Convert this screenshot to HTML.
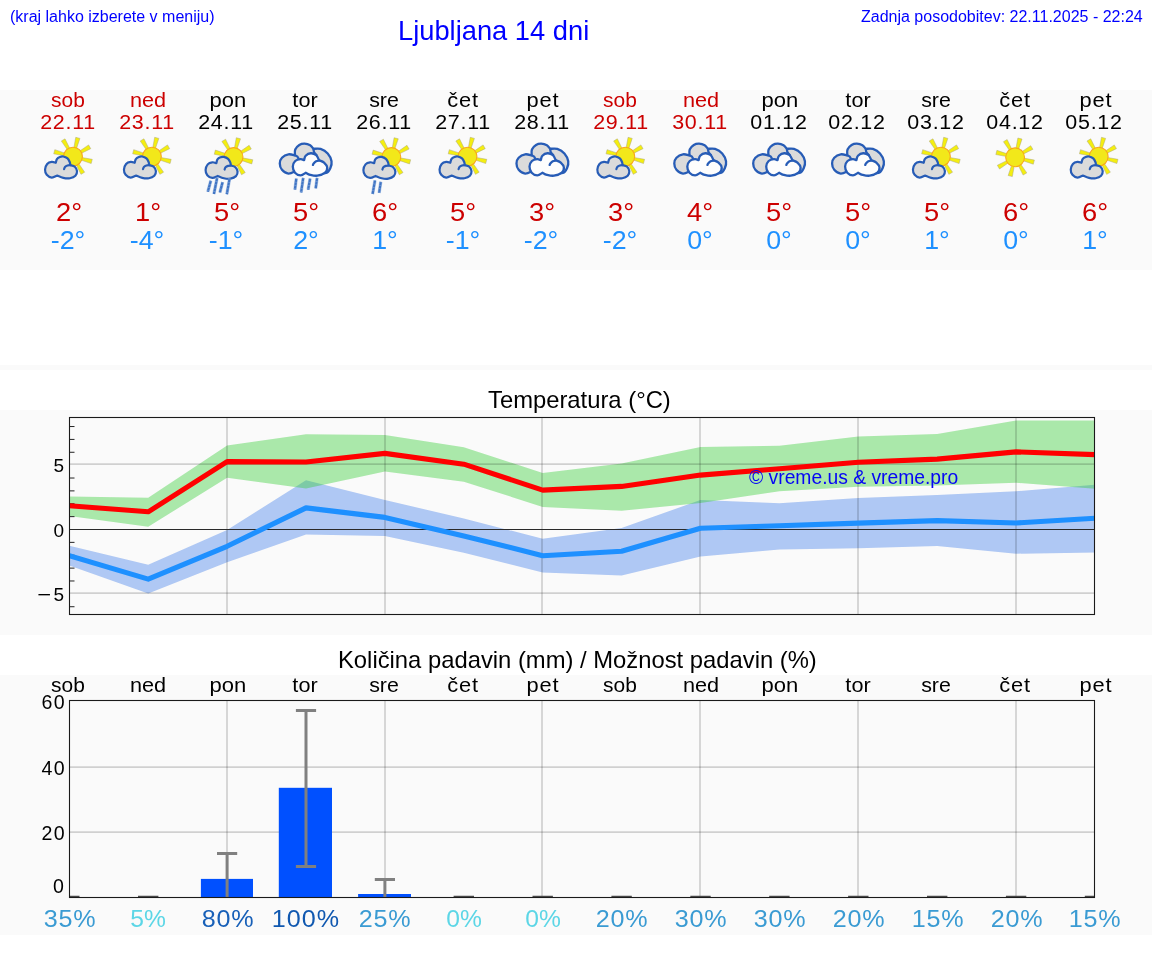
<!DOCTYPE html>
<html lang="sl"><head><meta charset="utf-8"><title>Ljubljana 14 dni</title>
<style>
html,body{margin:0;padding:0;background:#fff;}
body{width:1152px;height:975px;position:relative;overflow:hidden;font-family:"Liberation Sans",sans-serif;}
.abs{position:absolute;white-space:nowrap;line-height:1;will-change:transform;}
.panel{position:absolute;left:0;width:1152px;background:#fafafa;}
.hd{color:#0000ff;font-size:16px;}
.ttl{color:#000;font-size:23.8px;}
.c{position:absolute;white-space:nowrap;line-height:1;transform:translateX(-50%);text-align:center;will-change:transform;}
.day{font-size:19.5px;}
.date{font-size:19.5px;}
.red{color:#cc0000;} .blk{color:#000;}
.tmax{font-size:25.5px;color:#cc0000;}
.tmin{font-size:25.5px;color:#1e90ff;}
.pct{font-size:24.4px;}
.yt{position:absolute;white-space:nowrap;line-height:1;font-size:19px;color:#000;text-align:right;width:60px;will-change:transform;}
svg{position:absolute;overflow:visible;}
</style></head><body>

<div class="panel" style="top:90px;height:180px"></div>
<div class="panel" style="top:365px;height:5px"></div>
<div class="panel" style="top:410px;height:225px"></div>
<div class="panel" style="top:675px;height:260px"></div>
<div class="abs hd" style="left:9.7px;top:8.76px">(kraj lahko izberete v meniju)</div>
<div class="abs" style="left:397.9px;top:17.09px;font-size:27.3px;color:#0000ff">Ljubljana 14 dni</div>
<div class="abs hd" style="left:860.6px;top:8.76px">Zadnja posodobitev: 22.11.2025 - 22:24</div>
<div class="c day red" style="left:68.00px;top:90.69px;letter-spacing:0px;transform:translateX(-50%) scaleX(1.074);">sob</div>
<div class="c date red" style="left:68.46px;top:112.89px;letter-spacing:0.65px;transform:translateX(-50%) scaleX(1.1);">22.11</div>
<div class="c tmax" style="left:68.90px;top:199.60px;letter-spacing:0px;transform:translateX(-50%) scaleX(1.07);">2°</div>
<div class="c tmin" style="left:68.00px;top:227.60px;letter-spacing:0px;transform:translateX(-50%) scaleX(1.05);">-2°</div>
<div class="c day red" style="left:148.30px;top:90.69px;letter-spacing:0px;transform:translateX(-50%) scaleX(1.11);">ned</div>
<div class="c date red" style="left:147.36px;top:112.89px;letter-spacing:0.65px;transform:translateX(-50%) scaleX(1.1);">23.11</div>
<div class="c tmax" style="left:147.80px;top:199.60px;letter-spacing:0px;transform:translateX(-50%) scaleX(1.07);">1°</div>
<div class="c tmin" style="left:146.90px;top:227.60px;letter-spacing:0px;transform:translateX(-50%) scaleX(1.05);">-4°</div>
<div class="c day blk" style="left:228.00px;top:90.69px;letter-spacing:0px;transform:translateX(-50%) scaleX(1.13);">pon</div>
<div class="c date blk" style="left:226.26px;top:112.89px;letter-spacing:0.65px;transform:translateX(-50%) scaleX(1.1);">24.11</div>
<div class="c tmax" style="left:226.70px;top:199.60px;letter-spacing:0px;transform:translateX(-50%) scaleX(1.07);">5°</div>
<div class="c tmin" style="left:225.80px;top:227.60px;letter-spacing:0px;transform:translateX(-50%) scaleX(1.05);">-1°</div>
<div class="c day blk" style="left:305.20px;top:90.69px;letter-spacing:0px;transform:translateX(-50%) scaleX(1.11);">tor</div>
<div class="c date blk" style="left:305.16px;top:112.89px;letter-spacing:0.65px;transform:translateX(-50%) scaleX(1.1);">25.11</div>
<div class="c tmax" style="left:305.60px;top:199.60px;letter-spacing:0px;transform:translateX(-50%) scaleX(1.07);">5°</div>
<div class="c tmin" style="left:305.60px;top:227.60px;letter-spacing:0px;transform:translateX(-50%) scaleX(1.05);">2°</div>
<div class="c day blk" style="left:383.60px;top:90.69px;letter-spacing:0px;transform:translateX(-50%) scaleX(1.096);">sre</div>
<div class="c date blk" style="left:384.06px;top:112.89px;letter-spacing:0.65px;transform:translateX(-50%) scaleX(1.1);">26.11</div>
<div class="c tmax" style="left:384.50px;top:199.60px;letter-spacing:0px;transform:translateX(-50%) scaleX(1.07);">6°</div>
<div class="c tmin" style="left:384.50px;top:227.60px;letter-spacing:0px;transform:translateX(-50%) scaleX(1.05);">1°</div>
<div class="c day blk" style="left:463.09px;top:90.69px;letter-spacing:0.7px;transform:translateX(-50%) scaleX(1.12);">čet</div>
<div class="c date blk" style="left:462.96px;top:112.89px;letter-spacing:0.65px;transform:translateX(-50%) scaleX(1.1);">27.11</div>
<div class="c tmax" style="left:463.40px;top:199.60px;letter-spacing:0px;transform:translateX(-50%) scaleX(1.07);">5°</div>
<div class="c tmin" style="left:462.50px;top:227.60px;letter-spacing:0px;transform:translateX(-50%) scaleX(1.05);">-1°</div>
<div class="c day blk" style="left:543.28px;top:90.69px;letter-spacing:0.85px;transform:translateX(-50%) scaleX(1.12);">pet</div>
<div class="c date blk" style="left:541.86px;top:112.89px;letter-spacing:0.65px;transform:translateX(-50%) scaleX(1.1);">28.11</div>
<div class="c tmax" style="left:542.30px;top:199.60px;letter-spacing:0px;transform:translateX(-50%) scaleX(1.07);">3°</div>
<div class="c tmin" style="left:541.40px;top:227.60px;letter-spacing:0px;transform:translateX(-50%) scaleX(1.05);">-2°</div>
<div class="c day red" style="left:620.30px;top:90.69px;letter-spacing:0px;transform:translateX(-50%) scaleX(1.074);">sob</div>
<div class="c date red" style="left:620.76px;top:112.89px;letter-spacing:0.65px;transform:translateX(-50%) scaleX(1.1);">29.11</div>
<div class="c tmax" style="left:621.20px;top:199.60px;letter-spacing:0px;transform:translateX(-50%) scaleX(1.07);">3°</div>
<div class="c tmin" style="left:620.30px;top:227.60px;letter-spacing:0px;transform:translateX(-50%) scaleX(1.05);">-2°</div>
<div class="c day red" style="left:700.60px;top:90.69px;letter-spacing:0px;transform:translateX(-50%) scaleX(1.11);">ned</div>
<div class="c date red" style="left:699.66px;top:112.89px;letter-spacing:0.65px;transform:translateX(-50%) scaleX(1.1);">30.11</div>
<div class="c tmax" style="left:700.10px;top:199.60px;letter-spacing:0px;transform:translateX(-50%) scaleX(1.07);">4°</div>
<div class="c tmin" style="left:700.10px;top:227.60px;letter-spacing:0px;transform:translateX(-50%) scaleX(1.05);">0°</div>
<div class="c day blk" style="left:780.30px;top:90.69px;letter-spacing:0px;transform:translateX(-50%) scaleX(1.13);">pon</div>
<div class="c date blk" style="left:778.56px;top:112.89px;letter-spacing:0.65px;transform:translateX(-50%) scaleX(1.1);">01.12</div>
<div class="c tmax" style="left:779.00px;top:199.60px;letter-spacing:0px;transform:translateX(-50%) scaleX(1.07);">5°</div>
<div class="c tmin" style="left:779.00px;top:227.60px;letter-spacing:0px;transform:translateX(-50%) scaleX(1.05);">0°</div>
<div class="c day blk" style="left:857.50px;top:90.69px;letter-spacing:0px;transform:translateX(-50%) scaleX(1.11);">tor</div>
<div class="c date blk" style="left:857.46px;top:112.89px;letter-spacing:0.65px;transform:translateX(-50%) scaleX(1.1);">02.12</div>
<div class="c tmax" style="left:857.90px;top:199.60px;letter-spacing:0px;transform:translateX(-50%) scaleX(1.07);">5°</div>
<div class="c tmin" style="left:857.90px;top:227.60px;letter-spacing:0px;transform:translateX(-50%) scaleX(1.05);">0°</div>
<div class="c day blk" style="left:935.90px;top:90.69px;letter-spacing:0px;transform:translateX(-50%) scaleX(1.096);">sre</div>
<div class="c date blk" style="left:936.36px;top:112.89px;letter-spacing:0.65px;transform:translateX(-50%) scaleX(1.1);">03.12</div>
<div class="c tmax" style="left:936.80px;top:199.60px;letter-spacing:0px;transform:translateX(-50%) scaleX(1.07);">5°</div>
<div class="c tmin" style="left:936.80px;top:227.60px;letter-spacing:0px;transform:translateX(-50%) scaleX(1.05);">1°</div>
<div class="c day blk" style="left:1015.39px;top:90.69px;letter-spacing:0.7px;transform:translateX(-50%) scaleX(1.12);">čet</div>
<div class="c date blk" style="left:1015.26px;top:112.89px;letter-spacing:0.65px;transform:translateX(-50%) scaleX(1.1);">04.12</div>
<div class="c tmax" style="left:1015.70px;top:199.60px;letter-spacing:0px;transform:translateX(-50%) scaleX(1.07);">6°</div>
<div class="c tmin" style="left:1015.70px;top:227.60px;letter-spacing:0px;transform:translateX(-50%) scaleX(1.05);">0°</div>
<div class="c day blk" style="left:1095.58px;top:90.69px;letter-spacing:0.85px;transform:translateX(-50%) scaleX(1.12);">pet</div>
<div class="c date blk" style="left:1094.16px;top:112.89px;letter-spacing:0.65px;transform:translateX(-50%) scaleX(1.1);">05.12</div>
<div class="c tmax" style="left:1094.60px;top:199.60px;letter-spacing:0px;transform:translateX(-50%) scaleX(1.07);">6°</div>
<div class="c tmin" style="left:1094.60px;top:227.60px;letter-spacing:0px;transform:translateX(-50%) scaleX(1.05);">1°</div>
<svg style="left:0;top:130px" width="1152" height="72" viewBox="0 130 1152 72">
<path d="M80.89 160.04L91.2 163.53L92.27 159.36L81.57 157.42ZM76.15 164.61L80.97 174.36L84.67 172.18L78.48 163.24ZM69.56 164.49L66.07 174.8L70.24 175.87L72.18 165.17ZM64.99 159.75L55.24 164.57L57.42 168.27L66.36 162.08ZM65.11 153.16L54.8 149.67L53.73 153.84L64.43 155.78ZM69.85 148.59L65.03 138.84L61.33 141.02L67.52 149.96ZM76.44 148.71L79.93 138.4L75.76 137.33L73.82 148.03ZM81.01 153.45L90.76 148.63L88.58 144.93L79.64 151.12Z" fill="#f4ee10" stroke="#a9a67c" stroke-opacity="0.7" stroke-width="0.7" stroke-linejoin="round"/><circle cx="73" cy="156.6" r="9.4" fill="#f2e81a" stroke="#f8a81c" stroke-width="1.1"/><path d="M57.2 175.56C56.29 175.89 53.48 177.68 51.74 177.56C49.99 177.44 47.87 176.14 46.75 174.83C45.64 173.51 44.98 171.46 45.05 169.66C45.12 167.86 46.07 165.31 47.18 164.01C48.29 162.72 50.3 162.09 51.74 161.89C53.17 161.68 55.13 162.64 55.81 162.8C55.99 162.17 56.21 160.01 56.9 159.03C57.59 158.05 58.87 157.33 59.94 156.9C61 156.48 62.01 156.23 63.28 156.48C64.55 156.73 66.46 157.51 67.53 158.42C68.61 159.33 69.25 160.83 69.72 161.95C70.19 163.06 70.23 164.58 70.33 165.11C71.08 165.39 73.71 165.79 74.82 166.81C75.94 167.82 76.91 169.69 77.01 171.18C77.11 172.67 76.6 174.56 75.43 175.74C74.26 176.91 71.99 177.87 69.96 178.23C67.94 178.58 65.41 178.31 63.28 177.86C61.15 177.42 58.22 175.94 57.2 175.56Z" fill="#dbdbdb" stroke="#275cb6" stroke-width="2.2" stroke-linejoin="round"/><path d="M70.33 165.11C69.86 165.17 68.42 165.17 67.53 165.47C66.64 165.77 65.56 166.32 64.98 166.93C64.4 167.54 64.22 168.75 64.07 169.12" fill="none" stroke="#275cb6" stroke-width="2.2" stroke-linecap="round"/>
<path d="M159.79 160.04L170.1 163.53L171.17 159.36L160.47 157.42ZM155.05 164.61L159.87 174.36L163.57 172.18L157.38 163.24ZM148.46 164.49L144.97 174.8L149.14 175.87L151.08 165.17ZM143.89 159.75L134.14 164.57L136.32 168.27L145.26 162.08ZM144.01 153.16L133.7 149.67L132.63 153.84L143.33 155.78ZM148.75 148.59L143.93 138.84L140.23 141.02L146.42 149.96ZM155.34 148.71L158.83 138.4L154.66 137.33L152.72 148.03ZM159.91 153.45L169.66 148.63L167.48 144.93L158.54 151.12Z" fill="#f4ee10" stroke="#a9a67c" stroke-opacity="0.7" stroke-width="0.7" stroke-linejoin="round"/><circle cx="151.9" cy="156.6" r="9.4" fill="#f2e81a" stroke="#f8a81c" stroke-width="1.1"/><path d="M136.1 175.56C135.19 175.89 132.38 177.68 130.64 177.56C128.89 177.44 126.77 176.14 125.65 174.83C124.54 173.51 123.88 171.46 123.95 169.66C124.02 167.86 124.97 165.31 126.08 164.01C127.19 162.72 129.2 162.09 130.64 161.89C132.07 161.68 134.03 162.64 134.71 162.8C134.89 162.17 135.11 160.01 135.8 159.03C136.49 158.05 137.77 157.33 138.84 156.9C139.9 156.48 140.91 156.23 142.18 156.48C143.45 156.73 145.36 157.51 146.43 158.42C147.51 159.33 148.15 160.83 148.62 161.95C149.09 163.06 149.13 164.58 149.23 165.11C149.98 165.39 152.61 165.79 153.72 166.81C154.84 167.82 155.81 169.69 155.91 171.18C156.01 172.67 155.5 174.56 154.33 175.74C153.16 176.91 150.89 177.87 148.86 178.23C146.84 178.58 144.31 178.31 142.18 177.86C140.05 177.42 137.12 175.94 136.1 175.56Z" fill="#dbdbdb" stroke="#275cb6" stroke-width="2.2" stroke-linejoin="round"/><path d="M149.23 165.11C148.76 165.17 147.32 165.17 146.43 165.47C145.54 165.77 144.46 166.32 143.88 166.93C143.3 167.54 143.12 168.75 142.97 169.12" fill="none" stroke="#275cb6" stroke-width="2.2" stroke-linecap="round"/>
<path d="M241.44 160.44L251.75 163.93L252.82 159.76L242.12 157.82ZM236.7 165.01L241.52 174.76L245.22 172.58L239.03 163.64ZM230.11 164.89L226.62 175.2L230.79 176.27L232.73 165.57ZM225.54 160.15L215.79 164.97L217.97 168.67L226.91 162.48ZM225.66 153.56L215.35 150.07L214.28 154.24L224.98 156.18ZM230.4 148.99L225.58 139.24L221.88 141.42L228.07 150.36ZM236.99 149.11L240.48 138.8L236.31 137.73L234.37 148.43ZM241.56 153.85L251.31 149.03L249.13 145.33L240.19 151.52Z" fill="#f4ee10" stroke="#a9a67c" stroke-opacity="0.7" stroke-width="0.7" stroke-linejoin="round"/><circle cx="233.55" cy="157" r="9.4" fill="#f2e81a" stroke="#f8a81c" stroke-width="1.1"/><path d="M217.75 175.96C216.84 176.29 214.03 178.08 212.29 177.96C210.54 177.84 208.42 176.54 207.3 175.23C206.19 173.91 205.53 171.86 205.6 170.06C205.67 168.26 206.62 165.71 207.73 164.41C208.84 163.12 210.85 162.49 212.29 162.29C213.72 162.08 215.68 163.04 216.36 163.2C216.54 162.57 216.76 160.41 217.45 159.43C218.14 158.45 219.42 157.73 220.49 157.3C221.55 156.88 222.56 156.63 223.83 156.88C225.1 157.13 227.01 157.91 228.08 158.82C229.16 159.73 229.8 161.23 230.27 162.35C230.74 163.46 230.78 164.98 230.88 165.51C231.63 165.79 234.26 166.19 235.37 167.21C236.49 168.22 237.46 170.09 237.56 171.58C237.66 173.07 237.15 174.96 235.98 176.14C234.81 177.31 232.54 178.27 230.51 178.63C228.49 178.98 225.96 178.71 223.83 178.26C221.7 177.82 218.77 176.34 217.75 175.96Z" fill="#dbdbdb" stroke="#275cb6" stroke-width="2.2" stroke-linejoin="round"/><path d="M230.88 165.51C230.41 165.57 228.97 165.57 228.08 165.87C227.19 166.17 226.11 166.72 225.53 167.33C224.95 167.94 224.77 169.15 224.62 169.52" fill="none" stroke="#275cb6" stroke-width="2.2" stroke-linecap="round"/><path d="M210.8 180.7L207.8 191.8M217.1 177.9L213.9 193.9M222.6 182.1L219.9 192.5M229.6 178.6L226.8 194.2" stroke="#8fb0e0" stroke-width="3.4" fill="none" stroke-opacity="0.6"/><path d="M210.8 180.7L207.8 191.8M217.1 177.9L213.9 193.9M222.6 182.1L219.9 192.5M229.6 178.6L226.8 194.2" stroke="#4175c4" stroke-width="2.3" fill="none"/><path d="M210.8 180.7L207.8 191.8M217.1 177.9L213.9 193.9M222.6 182.1L219.9 192.5M229.6 178.6L226.8 194.2" stroke="#9db9e4" stroke-width="2.3" fill="none" stroke-dasharray="0.5 2.9" stroke-opacity="0.8"/>
<path d="M296.29 170.8C294.98 171.26 290.86 173.75 288.47 173.58C286.09 173.4 283.41 171.45 281.96 169.76C280.52 168.06 279.79 165.42 279.79 163.42C279.79 161.42 280.52 159.3 281.96 157.78C283.41 156.26 286.3 154.71 288.47 154.31C290.64 153.9 293.9 155.17 294.98 155.35C295.03 154.38 294.52 151.27 295.24 149.53C295.97 147.8 297.78 145.91 299.32 144.93C300.87 143.95 302.72 143.59 304.53 143.63C306.34 143.67 308.68 144.32 310.18 145.19C311.67 146.06 312.92 148.23 313.47 148.84C314.66 148.85 318.22 148.16 320.59 148.92C322.96 149.69 325.89 151.38 327.71 153.44C329.53 155.49 331.1 158.79 331.53 161.25C331.96 163.71 331.2 166.24 330.31 168.19C329.43 170.15 328.72 172.39 326.23 172.97C323.75 173.55 318.64 172.75 315.38 171.67C312.13 170.58 309.89 166.6 306.7 166.46C303.52 166.31 298.02 170.08 296.29 170.8Z" fill="#dbdbdb" stroke="#275cb6" stroke-width="2.3" stroke-linejoin="round"/><path d="M294.98 155.35C295.37 155.55 296.71 155.94 297.33 156.56C297.95 157.18 298.49 158.66 298.72 159.08M313.47 148.84C313.57 149.39 313.59 151.11 314.08 152.14C314.57 153.16 316.03 154.52 316.43 155" fill="none" stroke="#275cb6" stroke-width="2.3" stroke-linecap="round"/><path d="M305.83 172.71C304.97 173.14 302.43 175.31 300.63 175.31C298.82 175.31 296.29 174.18 294.98 172.71C293.68 171.23 292.77 168.41 292.81 166.46C292.86 164.51 293.97 162.22 295.24 160.99C296.52 159.76 298.98 159.22 300.45 159.08C301.93 158.94 303.49 159.95 304.1 160.12C304.36 159.38 304.53 156.84 305.66 155.69C306.79 154.55 309.1 153.35 310.87 153.26C312.63 153.18 314.89 154.02 316.25 155.17C317.61 156.33 318.57 159.37 319.03 160.21C319.87 160.6 322.7 161.34 324.06 162.55C325.42 163.77 327.02 165.84 327.19 167.5C327.36 169.16 326.75 171.17 325.11 172.53C323.46 173.89 319.78 175.28 317.29 175.66C314.8 176.04 312.08 175.28 310.18 174.79C308.27 174.3 306.56 173.06 305.83 172.71Z" fill="#fdfdfd" stroke="#275cb6" stroke-width="2.3" stroke-linejoin="round"/><path d="M319.29 160.38C318.75 160.53 317.02 160.74 316.08 161.25C315.14 161.76 314.17 162.81 313.65 163.42C313.13 164.03 313.07 164.65 312.95 164.9" fill="none" stroke="#275cb6" stroke-width="2.3" stroke-linecap="round"/><path d="M296.3 178.6L294.9 189.7M303.2 177.9L301.1 192.5M310.1 178.6L308.1 189.7M317.1 177.9L315.7 188.3" stroke="#8fb0e0" stroke-width="3.4" fill="none" stroke-opacity="0.6"/><path d="M296.3 178.6L294.9 189.7M303.2 177.9L301.1 192.5M310.1 178.6L308.1 189.7M317.1 177.9L315.7 188.3" stroke="#4175c4" stroke-width="2.3" fill="none"/><path d="M296.3 178.6L294.9 189.7M303.2 177.9L301.1 192.5M310.1 178.6L308.1 189.7M317.1 177.9L315.7 188.3" stroke="#9db9e4" stroke-width="2.3" fill="none" stroke-dasharray="0.5 2.9" stroke-opacity="0.8"/>
<path d="M399.24 160.44L409.55 163.93L410.62 159.76L399.92 157.82ZM394.5 165.01L399.32 174.76L403.02 172.58L396.83 163.64ZM387.91 164.89L384.42 175.2L388.59 176.27L390.53 165.57ZM383.34 160.15L373.59 164.97L375.77 168.67L384.71 162.48ZM383.46 153.56L373.15 150.07L372.08 154.24L382.78 156.18ZM388.2 148.99L383.38 139.24L379.68 141.42L385.87 150.36ZM394.79 149.11L398.28 138.8L394.11 137.73L392.17 148.43ZM399.36 153.85L409.11 149.03L406.93 145.33L397.99 151.52Z" fill="#f4ee10" stroke="#a9a67c" stroke-opacity="0.7" stroke-width="0.7" stroke-linejoin="round"/><circle cx="391.35" cy="157" r="9.4" fill="#f2e81a" stroke="#f8a81c" stroke-width="1.1"/><path d="M375.55 175.96C374.64 176.29 371.83 178.08 370.09 177.96C368.34 177.84 366.22 176.54 365.1 175.23C363.99 173.91 363.33 171.86 363.4 170.06C363.47 168.26 364.42 165.71 365.53 164.41C366.64 163.12 368.65 162.49 370.09 162.29C371.52 162.08 373.48 163.04 374.16 163.2C374.34 162.57 374.56 160.41 375.25 159.43C375.94 158.45 377.22 157.73 378.29 157.3C379.35 156.88 380.36 156.63 381.63 156.88C382.9 157.13 384.81 157.91 385.88 158.82C386.96 159.73 387.6 161.23 388.07 162.35C388.54 163.46 388.58 164.98 388.68 165.51C389.43 165.79 392.06 166.19 393.17 167.21C394.29 168.22 395.26 170.09 395.36 171.58C395.46 173.07 394.95 174.96 393.78 176.14C392.61 177.31 390.34 178.27 388.31 178.63C386.29 178.98 383.76 178.71 381.63 178.26C379.5 177.82 376.57 176.34 375.55 175.96Z" fill="#dbdbdb" stroke="#275cb6" stroke-width="2.2" stroke-linejoin="round"/><path d="M388.68 165.51C388.21 165.57 386.77 165.57 385.88 165.87C384.99 166.17 383.91 166.72 383.33 167.33C382.75 167.94 382.57 169.15 382.42 169.52" fill="none" stroke="#275cb6" stroke-width="2.2" stroke-linecap="round"/><path d="M375 180.4L372.6 194M380.8 181.8L379.1 192.9" stroke="#8fb0e0" stroke-width="3.4" fill="none" stroke-opacity="0.6"/><path d="M375 180.4L372.6 194M380.8 181.8L379.1 192.9" stroke="#4175c4" stroke-width="2.3" fill="none"/><path d="M375 180.4L372.6 194M380.8 181.8L379.1 192.9" stroke="#9db9e4" stroke-width="2.3" fill="none" stroke-dasharray="0.5 2.9" stroke-opacity="0.8"/>
<path d="M475.39 160.04L485.7 163.53L486.77 159.36L476.07 157.42ZM470.65 164.61L475.47 174.36L479.17 172.18L472.98 163.24ZM464.06 164.49L460.57 174.8L464.74 175.87L466.68 165.17ZM459.49 159.75L449.74 164.57L451.92 168.27L460.86 162.08ZM459.61 153.16L449.3 149.67L448.23 153.84L458.93 155.78ZM464.35 148.59L459.53 138.84L455.83 141.02L462.02 149.96ZM470.94 148.71L474.43 138.4L470.26 137.33L468.32 148.03ZM475.51 153.45L485.26 148.63L483.08 144.93L474.14 151.12Z" fill="#f4ee10" stroke="#a9a67c" stroke-opacity="0.7" stroke-width="0.7" stroke-linejoin="round"/><circle cx="467.5" cy="156.6" r="9.4" fill="#f2e81a" stroke="#f8a81c" stroke-width="1.1"/><path d="M451.7 175.56C450.79 175.89 447.98 177.68 446.24 177.56C444.49 177.44 442.37 176.14 441.25 174.83C440.14 173.51 439.48 171.46 439.55 169.66C439.62 167.86 440.57 165.31 441.68 164.01C442.79 162.72 444.8 162.09 446.24 161.89C447.67 161.68 449.63 162.64 450.31 162.8C450.49 162.17 450.71 160.01 451.4 159.03C452.09 158.05 453.37 157.33 454.44 156.9C455.5 156.48 456.51 156.23 457.78 156.48C459.05 156.73 460.96 157.51 462.03 158.42C463.11 159.33 463.75 160.83 464.22 161.95C464.69 163.06 464.73 164.58 464.83 165.11C465.58 165.39 468.21 165.79 469.32 166.81C470.44 167.82 471.41 169.69 471.51 171.18C471.61 172.67 471.1 174.56 469.93 175.74C468.76 176.91 466.49 177.87 464.46 178.23C462.44 178.58 459.91 178.31 457.78 177.86C455.65 177.42 452.72 175.94 451.7 175.56Z" fill="#dbdbdb" stroke="#275cb6" stroke-width="2.2" stroke-linejoin="round"/><path d="M464.83 165.11C464.36 165.17 462.92 165.17 462.03 165.47C461.14 165.77 460.06 166.32 459.48 166.93C458.9 167.54 458.72 168.75 458.57 169.12" fill="none" stroke="#275cb6" stroke-width="2.2" stroke-linecap="round"/>
<path d="M532.99 170.8C531.68 171.26 527.56 173.75 525.17 173.58C522.79 173.4 520.11 171.45 518.66 169.76C517.22 168.06 516.49 165.42 516.49 163.42C516.49 161.42 517.22 159.3 518.66 157.78C520.11 156.26 523 154.71 525.17 154.31C527.34 153.9 530.6 155.17 531.68 155.35C531.73 154.38 531.22 151.27 531.94 149.53C532.67 147.8 534.48 145.91 536.02 144.93C537.57 143.95 539.42 143.59 541.23 143.63C543.04 143.67 545.38 144.32 546.88 145.19C548.37 146.06 549.62 148.23 550.17 148.84C551.36 148.85 554.92 148.16 557.29 148.92C559.66 149.69 562.59 151.38 564.41 153.44C566.23 155.49 567.8 158.79 568.23 161.25C568.66 163.71 567.9 166.24 567.01 168.19C566.13 170.15 565.42 172.39 562.93 172.97C560.45 173.55 555.34 172.75 552.08 171.67C548.83 170.58 546.59 166.6 543.4 166.46C540.22 166.31 534.72 170.08 532.99 170.8Z" fill="#dbdbdb" stroke="#275cb6" stroke-width="2.3" stroke-linejoin="round"/><path d="M531.68 155.35C532.07 155.55 533.41 155.94 534.03 156.56C534.65 157.18 535.19 158.66 535.42 159.08M550.17 148.84C550.27 149.39 550.29 151.11 550.78 152.14C551.27 153.16 552.73 154.52 553.13 155" fill="none" stroke="#275cb6" stroke-width="2.3" stroke-linecap="round"/><path d="M542.53 172.71C541.67 173.14 539.13 175.31 537.33 175.31C535.52 175.31 532.99 174.18 531.68 172.71C530.38 171.23 529.47 168.41 529.51 166.46C529.56 164.51 530.67 162.22 531.94 160.99C533.22 159.76 535.68 159.22 537.15 159.08C538.63 158.94 540.19 159.95 540.8 160.12C541.06 159.38 541.23 156.84 542.36 155.69C543.49 154.55 545.8 153.35 547.57 153.26C549.33 153.18 551.59 154.02 552.95 155.17C554.31 156.33 555.27 159.37 555.73 160.21C556.57 160.6 559.4 161.34 560.76 162.55C562.12 163.77 563.72 165.84 563.89 167.5C564.06 169.16 563.45 171.17 561.81 172.53C560.16 173.89 556.48 175.28 553.99 175.66C551.5 176.04 548.78 175.28 546.88 174.79C544.97 174.3 543.26 173.06 542.53 172.71Z" fill="#fdfdfd" stroke="#275cb6" stroke-width="2.3" stroke-linejoin="round"/><path d="M555.99 160.38C555.45 160.53 553.72 160.74 552.78 161.25C551.84 161.76 550.87 162.81 550.35 163.42C549.83 164.03 549.77 164.65 549.65 164.9" fill="none" stroke="#275cb6" stroke-width="2.3" stroke-linecap="round"/>
<path d="M633.19 160.04L643.5 163.53L644.57 159.36L633.87 157.42ZM628.45 164.61L633.27 174.36L636.97 172.18L630.78 163.24ZM621.86 164.49L618.37 174.8L622.54 175.87L624.48 165.17ZM617.29 159.75L607.54 164.57L609.72 168.27L618.66 162.08ZM617.41 153.16L607.1 149.67L606.03 153.84L616.73 155.78ZM622.15 148.59L617.33 138.84L613.63 141.02L619.82 149.96ZM628.74 148.71L632.23 138.4L628.06 137.33L626.12 148.03ZM633.31 153.45L643.06 148.63L640.88 144.93L631.94 151.12Z" fill="#f4ee10" stroke="#a9a67c" stroke-opacity="0.7" stroke-width="0.7" stroke-linejoin="round"/><circle cx="625.3" cy="156.6" r="9.4" fill="#f2e81a" stroke="#f8a81c" stroke-width="1.1"/><path d="M609.5 175.56C608.59 175.89 605.78 177.68 604.04 177.56C602.29 177.44 600.17 176.14 599.05 174.83C597.94 173.51 597.28 171.46 597.35 169.66C597.42 167.86 598.37 165.31 599.48 164.01C600.59 162.72 602.6 162.09 604.04 161.89C605.47 161.68 607.43 162.64 608.11 162.8C608.29 162.17 608.51 160.01 609.2 159.03C609.89 158.05 611.17 157.33 612.24 156.9C613.3 156.48 614.31 156.23 615.58 156.48C616.85 156.73 618.76 157.51 619.83 158.42C620.91 159.33 621.55 160.83 622.02 161.95C622.49 163.06 622.53 164.58 622.63 165.11C623.38 165.39 626.01 165.79 627.12 166.81C628.24 167.82 629.21 169.69 629.31 171.18C629.41 172.67 628.9 174.56 627.73 175.74C626.56 176.91 624.29 177.87 622.26 178.23C620.24 178.58 617.71 178.31 615.58 177.86C613.45 177.42 610.52 175.94 609.5 175.56Z" fill="#dbdbdb" stroke="#275cb6" stroke-width="2.2" stroke-linejoin="round"/><path d="M622.63 165.11C622.16 165.17 620.72 165.17 619.83 165.47C618.94 165.77 617.86 166.32 617.28 166.93C616.7 167.54 616.52 168.75 616.37 169.12" fill="none" stroke="#275cb6" stroke-width="2.2" stroke-linecap="round"/>
<path d="M690.79 170.8C689.48 171.26 685.36 173.75 682.97 173.58C680.59 173.4 677.91 171.45 676.46 169.76C675.02 168.06 674.29 165.42 674.29 163.42C674.29 161.42 675.02 159.3 676.46 157.78C677.91 156.26 680.8 154.71 682.97 154.31C685.14 153.9 688.4 155.17 689.48 155.35C689.53 154.38 689.02 151.27 689.74 149.53C690.47 147.8 692.28 145.91 693.82 144.93C695.37 143.95 697.22 143.59 699.03 143.63C700.84 143.67 703.18 144.32 704.68 145.19C706.17 146.06 707.42 148.23 707.97 148.84C709.16 148.85 712.72 148.16 715.09 148.92C717.46 149.69 720.39 151.38 722.21 153.44C724.03 155.49 725.6 158.79 726.03 161.25C726.46 163.71 725.7 166.24 724.81 168.19C723.93 170.15 723.22 172.39 720.73 172.97C718.25 173.55 713.14 172.75 709.88 171.67C706.63 170.58 704.39 166.6 701.2 166.46C698.02 166.31 692.52 170.08 690.79 170.8Z" fill="#dbdbdb" stroke="#275cb6" stroke-width="2.3" stroke-linejoin="round"/><path d="M689.48 155.35C689.87 155.55 691.21 155.94 691.83 156.56C692.45 157.18 692.99 158.66 693.22 159.08M707.97 148.84C708.07 149.39 708.09 151.11 708.58 152.14C709.07 153.16 710.53 154.52 710.93 155" fill="none" stroke="#275cb6" stroke-width="2.3" stroke-linecap="round"/><path d="M700.33 172.71C699.47 173.14 696.93 175.31 695.13 175.31C693.32 175.31 690.79 174.18 689.48 172.71C688.18 171.23 687.27 168.41 687.31 166.46C687.36 164.51 688.47 162.22 689.74 160.99C691.02 159.76 693.48 159.22 694.95 159.08C696.43 158.94 697.99 159.95 698.6 160.12C698.86 159.38 699.03 156.84 700.16 155.69C701.29 154.55 703.6 153.35 705.37 153.26C707.13 153.18 709.39 154.02 710.75 155.17C712.11 156.33 713.07 159.37 713.53 160.21C714.37 160.6 717.2 161.34 718.56 162.55C719.92 163.77 721.52 165.84 721.69 167.5C721.86 169.16 721.25 171.17 719.61 172.53C717.96 173.89 714.28 175.28 711.79 175.66C709.3 176.04 706.58 175.28 704.68 174.79C702.77 174.3 701.06 173.06 700.33 172.71Z" fill="#fdfdfd" stroke="#275cb6" stroke-width="2.3" stroke-linejoin="round"/><path d="M713.79 160.38C713.25 160.53 711.52 160.74 710.58 161.25C709.64 161.76 708.67 162.81 708.15 163.42C707.63 164.03 707.57 164.65 707.45 164.9" fill="none" stroke="#275cb6" stroke-width="2.3" stroke-linecap="round"/>
<path d="M769.69 170.8C768.38 171.26 764.26 173.75 761.87 173.58C759.49 173.4 756.81 171.45 755.36 169.76C753.92 168.06 753.19 165.42 753.19 163.42C753.19 161.42 753.92 159.3 755.36 157.78C756.81 156.26 759.7 154.71 761.87 154.31C764.04 153.9 767.3 155.17 768.38 155.35C768.43 154.38 767.92 151.27 768.64 149.53C769.37 147.8 771.18 145.91 772.72 144.93C774.27 143.95 776.12 143.59 777.93 143.63C779.74 143.67 782.08 144.32 783.57 145.19C785.07 146.06 786.32 148.23 786.87 148.84C788.06 148.85 791.62 148.16 793.99 148.92C796.36 149.69 799.29 151.38 801.11 153.44C802.93 155.49 804.5 158.79 804.93 161.25C805.36 163.71 804.6 166.24 803.71 168.19C802.83 170.15 802.12 172.39 799.63 172.97C797.15 173.55 792.04 172.75 788.78 171.67C785.53 170.58 783.29 166.6 780.1 166.46C776.92 166.31 771.42 170.08 769.69 170.8Z" fill="#dbdbdb" stroke="#275cb6" stroke-width="2.3" stroke-linejoin="round"/><path d="M768.38 155.35C768.77 155.55 770.11 155.94 770.73 156.56C771.35 157.18 771.89 158.66 772.12 159.08M786.87 148.84C786.97 149.39 786.99 151.11 787.48 152.14C787.97 153.16 789.43 154.52 789.82 155" fill="none" stroke="#275cb6" stroke-width="2.3" stroke-linecap="round"/><path d="M779.23 172.71C778.37 173.14 775.83 175.31 774.03 175.31C772.22 175.31 769.69 174.18 768.38 172.71C767.08 171.23 766.17 168.41 766.21 166.46C766.26 164.51 767.37 162.22 768.64 160.99C769.92 159.76 772.38 159.22 773.85 159.08C775.33 158.94 776.89 159.95 777.5 160.12C777.76 159.38 777.93 156.84 779.06 155.69C780.19 154.55 782.5 153.35 784.27 153.26C786.03 153.18 788.29 154.02 789.65 155.17C791.01 156.33 791.97 159.37 792.43 160.21C793.27 160.6 796.1 161.34 797.46 162.55C798.82 163.77 800.42 165.84 800.59 167.5C800.76 169.16 800.15 171.17 798.51 172.53C796.86 173.89 793.18 175.28 790.69 175.66C788.2 176.04 785.48 175.28 783.57 174.79C781.67 174.3 779.96 173.06 779.23 172.71Z" fill="#fdfdfd" stroke="#275cb6" stroke-width="2.3" stroke-linejoin="round"/><path d="M792.69 160.38C792.15 160.53 790.42 160.74 789.48 161.25C788.54 161.76 787.57 162.81 787.05 163.42C786.53 164.03 786.47 164.65 786.35 164.9" fill="none" stroke="#275cb6" stroke-width="2.3" stroke-linecap="round"/>
<path d="M848.59 170.8C847.28 171.26 843.16 173.75 840.77 173.58C838.39 173.4 835.71 171.45 834.26 169.76C832.82 168.06 832.09 165.42 832.09 163.42C832.09 161.42 832.82 159.3 834.26 157.78C835.71 156.26 838.6 154.71 840.77 154.31C842.94 153.9 846.2 155.17 847.28 155.35C847.33 154.38 846.82 151.27 847.54 149.53C848.27 147.8 850.08 145.91 851.62 144.93C853.17 143.95 855.02 143.59 856.83 143.63C858.64 143.67 860.98 144.32 862.48 145.19C863.97 146.06 865.22 148.23 865.77 148.84C866.96 148.85 870.52 148.16 872.89 148.92C875.26 149.69 878.19 151.38 880.01 153.44C881.83 155.49 883.4 158.79 883.83 161.25C884.26 163.71 883.5 166.24 882.61 168.19C881.73 170.15 881.02 172.39 878.53 172.97C876.05 173.55 870.94 172.75 867.68 171.67C864.43 170.58 862.19 166.6 859 166.46C855.82 166.31 850.32 170.08 848.59 170.8Z" fill="#dbdbdb" stroke="#275cb6" stroke-width="2.3" stroke-linejoin="round"/><path d="M847.28 155.35C847.67 155.55 849.01 155.94 849.63 156.56C850.25 157.18 850.79 158.66 851.02 159.08M865.77 148.84C865.87 149.39 865.89 151.11 866.38 152.14C866.87 153.16 868.33 154.52 868.73 155" fill="none" stroke="#275cb6" stroke-width="2.3" stroke-linecap="round"/><path d="M858.13 172.71C857.27 173.14 854.73 175.31 852.93 175.31C851.12 175.31 848.59 174.18 847.28 172.71C845.98 171.23 845.07 168.41 845.11 166.46C845.16 164.51 846.27 162.22 847.54 160.99C848.82 159.76 851.28 159.22 852.75 159.08C854.23 158.94 855.79 159.95 856.4 160.12C856.66 159.38 856.83 156.84 857.96 155.69C859.09 154.55 861.4 153.35 863.17 153.26C864.93 153.18 867.19 154.02 868.55 155.17C869.91 156.33 870.87 159.37 871.33 160.21C872.17 160.6 875 161.34 876.36 162.55C877.72 163.77 879.32 165.84 879.49 167.5C879.66 169.16 879.05 171.17 877.41 172.53C875.76 173.89 872.08 175.28 869.59 175.66C867.1 176.04 864.38 175.28 862.48 174.79C860.57 174.3 858.86 173.06 858.13 172.71Z" fill="#fdfdfd" stroke="#275cb6" stroke-width="2.3" stroke-linejoin="round"/><path d="M871.59 160.38C871.05 160.53 869.32 160.74 868.38 161.25C867.44 161.76 866.47 162.81 865.95 163.42C865.43 164.03 865.37 164.65 865.25 164.9" fill="none" stroke="#275cb6" stroke-width="2.3" stroke-linecap="round"/>
<path d="M948.79 160.04L959.1 163.53L960.17 159.36L949.47 157.42ZM944.05 164.61L948.87 174.36L952.57 172.18L946.38 163.24ZM937.46 164.49L933.97 174.8L938.14 175.87L940.08 165.17ZM932.89 159.75L923.14 164.57L925.32 168.27L934.26 162.08ZM933.01 153.16L922.7 149.67L921.63 153.84L932.33 155.78ZM937.75 148.59L932.93 138.84L929.23 141.02L935.42 149.96ZM944.34 148.71L947.83 138.4L943.66 137.33L941.72 148.03ZM948.91 153.45L958.66 148.63L956.48 144.93L947.54 151.12Z" fill="#f4ee10" stroke="#a9a67c" stroke-opacity="0.7" stroke-width="0.7" stroke-linejoin="round"/><circle cx="940.9" cy="156.6" r="9.4" fill="#f2e81a" stroke="#f8a81c" stroke-width="1.1"/><path d="M925.1 175.56C924.19 175.89 921.38 177.68 919.64 177.56C917.89 177.44 915.77 176.14 914.65 174.83C913.54 173.51 912.88 171.46 912.95 169.66C913.02 167.86 913.97 165.31 915.08 164.01C916.19 162.72 918.2 162.09 919.64 161.89C921.07 161.68 923.03 162.64 923.71 162.8C923.89 162.17 924.11 160.01 924.8 159.03C925.49 158.05 926.77 157.33 927.84 156.9C928.9 156.48 929.91 156.23 931.18 156.48C932.45 156.73 934.36 157.51 935.43 158.42C936.51 159.33 937.15 160.83 937.62 161.95C938.09 163.06 938.13 164.58 938.23 165.11C938.98 165.39 941.61 165.79 942.72 166.81C943.84 167.82 944.81 169.69 944.91 171.18C945.01 172.67 944.5 174.56 943.33 175.74C942.16 176.91 939.89 177.87 937.86 178.23C935.84 178.58 933.31 178.31 931.18 177.86C929.05 177.42 926.12 175.94 925.1 175.56Z" fill="#dbdbdb" stroke="#275cb6" stroke-width="2.2" stroke-linejoin="round"/><path d="M938.23 165.11C937.76 165.17 936.32 165.17 935.43 165.47C934.54 165.77 933.46 166.32 932.88 166.93C932.3 167.54 932.12 168.75 931.97 169.12" fill="none" stroke="#275cb6" stroke-width="2.2" stroke-linecap="round"/>
<path d="M1022.99 160.74L1033.3 164.23L1034.37 160.06L1023.67 158.12ZM1018.25 165.31L1023.07 175.06L1026.77 172.88L1020.58 163.94ZM1011.66 165.19L1008.17 175.5L1012.34 176.57L1014.28 165.87ZM1007.09 160.45L997.34 165.27L999.52 168.97L1008.46 162.78ZM1007.21 153.86L996.9 150.37L995.83 154.54L1006.53 156.48ZM1011.95 149.29L1007.13 139.54L1003.43 141.72L1009.62 150.66ZM1018.54 149.41L1022.03 139.1L1017.86 138.03L1015.92 148.73ZM1023.11 154.15L1032.86 149.33L1030.68 145.63L1021.74 151.82Z" fill="#f4ee10" stroke="#a9a67c" stroke-opacity="0.7" stroke-width="0.7" stroke-linejoin="round"/><circle cx="1015.1" cy="157.3" r="9.4" fill="#f2e81a" stroke="#f8a81c" stroke-width="1.1"/>
<path d="M1106.59 160.04L1116.9 163.53L1117.97 159.36L1107.27 157.42ZM1101.85 164.61L1106.67 174.36L1110.37 172.18L1104.18 163.24ZM1095.26 164.49L1091.77 174.8L1095.94 175.87L1097.88 165.17ZM1090.69 159.75L1080.94 164.57L1083.12 168.27L1092.06 162.08ZM1090.81 153.16L1080.5 149.67L1079.43 153.84L1090.13 155.78ZM1095.55 148.59L1090.73 138.84L1087.03 141.02L1093.22 149.96ZM1102.14 148.71L1105.63 138.4L1101.46 137.33L1099.52 148.03ZM1106.71 153.45L1116.46 148.63L1114.28 144.93L1105.34 151.12Z" fill="#f4ee10" stroke="#a9a67c" stroke-opacity="0.7" stroke-width="0.7" stroke-linejoin="round"/><circle cx="1098.7" cy="156.6" r="9.4" fill="#f2e81a" stroke="#f8a81c" stroke-width="1.1"/><path d="M1082.9 175.56C1081.99 175.89 1079.18 177.68 1077.44 177.56C1075.69 177.44 1073.57 176.14 1072.45 174.83C1071.34 173.51 1070.68 171.46 1070.75 169.66C1070.82 167.86 1071.77 165.31 1072.88 164.01C1073.99 162.72 1076 162.09 1077.44 161.89C1078.87 161.68 1080.83 162.64 1081.51 162.8C1081.69 162.17 1081.91 160.01 1082.6 159.03C1083.29 158.05 1084.57 157.33 1085.64 156.9C1086.7 156.48 1087.71 156.23 1088.98 156.48C1090.25 156.73 1092.16 157.51 1093.23 158.42C1094.31 159.33 1094.95 160.83 1095.42 161.95C1095.89 163.06 1095.93 164.58 1096.03 165.11C1096.78 165.39 1099.41 165.79 1100.52 166.81C1101.64 167.82 1102.61 169.69 1102.71 171.18C1102.81 172.67 1102.3 174.56 1101.13 175.74C1099.96 176.91 1097.69 177.87 1095.66 178.23C1093.64 178.58 1091.11 178.31 1088.98 177.86C1086.85 177.42 1083.92 175.94 1082.9 175.56Z" fill="#dbdbdb" stroke="#275cb6" stroke-width="2.2" stroke-linejoin="round"/><path d="M1096.03 165.11C1095.56 165.17 1094.12 165.17 1093.23 165.47C1092.34 165.77 1091.26 166.32 1090.68 166.93C1090.1 167.54 1089.92 168.75 1089.77 169.12" fill="none" stroke="#275cb6" stroke-width="2.2" stroke-linecap="round"/>
</svg>
<div class="abs ttl" style="left:488.1px;top:388.05px">Temperatura (°C)</div>
<svg style="left:0;top:410px" width="1152" height="225" viewBox="0 410 1152 225"><defs><clipPath id="ct"><rect x="69.5" y="417.5" width="1025.0" height="197.0"/></clipPath></defs><g clip-path="url(#ct)"><path d="M69.3 545.7L148.2 564.7L227.1 529.9L306 480.2L384.9 499.9L463.8 518.6L542.7 538.7L621.6 528L700.5 500.1L779.4 503.2L858.3 498.1L937.2 495L1016.1 491.3L1095 484.7L1095 552.4L1016.1 553.7L937.2 545.9L858.3 548.3L779.4 549.4L700.5 556.5L621.6 575.4L542.7 572.5L463.8 552.8L384.9 536L306 534.6L227.1 562.3L148.2 593.5L69.3 565.4Z" fill="#6495ed" fill-opacity="0.5"/><path d="M69.3 496.4L148.2 497.7L227.1 445.4L306 434.3L384.9 434.9L463.8 447.2L542.7 473.1L621.6 463.6L700.5 447L779.4 445.8L858.3 436.5L937.2 434.1L1016.1 420.5L1095 420.5L1095 488.8L1016.1 482.7L937.2 485.4L858.3 486.8L779.4 491.3L700.5 503L621.6 510.8L542.7 506.9L463.8 481.7L384.9 471.6L306 488.4L227.1 477.8L148.2 526.8L69.3 515.9Z" fill="#32cd32" fill-opacity="0.4"/><path d="M69.5 464H1094.5M69.5 593H1094.5" stroke="#000" stroke-opacity="0.165" stroke-width="1.75" fill="none"/><path d="M227 417.5V614.5M385 417.5V614.5M542 417.5V614.5M700 417.5V614.5M858 417.5V614.5M1016 417.5V614.5" stroke="#000" stroke-opacity="0.165" stroke-width="1.75" fill="none"/><path d="M69.5 529.5H1094.5" stroke="#2a2a2a" stroke-width="1.1" fill="none"/><path d="M69.5 606.72h5M69.5 580.98h5M69.5 568.11h5M69.5 555.24h5M69.5 542.37h5M69.5 516.63h5M69.5 503.76h5M69.5 490.89h5M69.5 478.02h5M69.5 452.28h5M69.5 439.41h5M69.5 426.54h5" stroke="#222" stroke-width="1" fill="none"/><path d="M69.3 555.7L148.2 579.1L227.1 546.3L306 507.9L384.9 517.4L463.8 535.9L542.7 555.7L621.6 551.2L700.5 528.2L779.4 525.8L858.3 523.1L937.2 520.6L1016.1 523L1095 518.2" stroke="#1e90ff" stroke-width="5.1" fill="none" stroke-linejoin="round"/><path d="M69.3 505.7L148.2 511.8L227.1 461.6L306 462L384.9 453.4L463.8 464.2L542.7 490.1L621.6 486.4L700.5 475.1L779.4 468.7L858.3 462.2L937.2 459.1L1016.1 451.9L1095 454.6" stroke="#ff0000" stroke-width="5.1" fill="none" stroke-linejoin="round"/></g><rect x="69.5" y="417.5" width="1025.0" height="197.0" fill="none" stroke="#1a1a1a" stroke-width="1.1"/></svg>
<div class="yt" style="left:3.8px;top:455.82px">5</div>
<div class="yt" style="left:3.8px;top:520.72px">0</div>
<div class="yt" style="left:3.8px;top:584.92px"><span style="display:inline-block;transform:scaleX(1.25);transform-origin:100% 50%;margin-right:2.6px">−</span>5</div>
<div class="abs" style="left:748.8px;top:468.16px;font-size:19.3px;color:#0505f5">© vreme.us &amp; vreme.pro</div>
<div class="abs ttl" style="left:338.4px;top:648.25px">Količina padavin (mm) / Možnost padavin (%)</div>
<svg style="left:0;top:675px" width="1152" height="260" viewBox="0 675 1152 260"><defs><clipPath id="cp"><rect x="69.5" y="700.5" width="1025.0" height="197.0"/></clipPath></defs><g clip-path="url(#cp)"><path d="M69.5 767H1094.5M69.5 832H1094.5" stroke="#000" stroke-opacity="0.165" stroke-width="1.75" fill="none"/><path d="M227 700.5V897.5M385 700.5V897.5M542 700.5V897.5M700 700.5V897.5M858 700.5V897.5M1016 700.5V897.5" stroke="#000" stroke-opacity="0.165" stroke-width="1.75" fill="none"/><rect x="200.9" y="878.9" width="52.1" height="18.6" fill="#0050ff"/><rect x="278.8" y="787.8" width="53.2" height="109.7" fill="#0050ff"/><rect x="358.1" y="894.0" width="52.9" height="3.5" fill="#0050ff"/><path d="M59.1 896.6h20.4M138 896.6h20.4M453.6 896.6h20.4M532.5 896.6h20.4M611.4 896.6h20.4M690.3 896.6h20.4M769.2 896.6h20.4M848.1 896.6h20.4M927 896.6h20.4M1005.9 896.6h20.4M1084.8 896.6h20.4" stroke="#4a4a4a" stroke-width="1.6" fill="none"/><path d="M227.1 853.4V897.5M217 853.4h20.2M306 710.5V866.4M295.9 710.5h20.2M295.9 866.4h20.2M384.9 879.4V897.5M374.8 879.4h20.2" stroke="#808080" stroke-width="3" fill="none"/></g><rect x="69.5" y="700.5" width="1025.0" height="197.0" fill="none" stroke="#1a1a1a" stroke-width="1.1"/></svg>
<div class="c day blk" style="left:68.00px;top:676.09px;letter-spacing:0px;transform:translateX(-50%) scaleX(1.074);">sob</div>
<div class="c pct" style="left:69.76px;top:907.25px;letter-spacing:0.7px;transform:translateX(-50%) scaleX(1.03);color:#3a9bd3;">35%</div>
<div class="c day blk" style="left:148.30px;top:676.09px;letter-spacing:0px;transform:translateX(-50%) scaleX(1.11);">ned</div>
<div class="c pct" style="left:148.30px;top:907.25px;letter-spacing:0px;transform:translateX(-50%) scaleX(1.01);color:#5cd6e6;">5%</div>
<div class="c day blk" style="left:228.00px;top:676.09px;letter-spacing:0px;transform:translateX(-50%) scaleX(1.13);">pon</div>
<div class="c pct" style="left:227.56px;top:907.25px;letter-spacing:0.7px;transform:translateX(-50%) scaleX(1.03);color:#1860b8;">80%</div>
<div class="c day blk" style="left:305.20px;top:676.09px;letter-spacing:0px;transform:translateX(-50%) scaleX(1.11);">tor</div>
<div class="c pct" style="left:306.10px;top:907.25px;letter-spacing:0.98px;transform:translateX(-50%) scaleX(1.03);color:#1058b0;">100%</div>
<div class="c day blk" style="left:383.60px;top:676.09px;letter-spacing:0px;transform:translateX(-50%) scaleX(1.096);">sre</div>
<div class="c pct" style="left:385.36px;top:907.25px;letter-spacing:0.7px;transform:translateX(-50%) scaleX(1.03);color:#3a9bd3;">25%</div>
<div class="c day blk" style="left:463.09px;top:676.09px;letter-spacing:0.7px;transform:translateX(-50%) scaleX(1.12);">čet</div>
<div class="c pct" style="left:463.90px;top:907.25px;letter-spacing:0px;transform:translateX(-50%) scaleX(1.01);color:#5cd6e6;">0%</div>
<div class="c day blk" style="left:543.28px;top:676.09px;letter-spacing:0.85px;transform:translateX(-50%) scaleX(1.12);">pet</div>
<div class="c pct" style="left:542.80px;top:907.25px;letter-spacing:0px;transform:translateX(-50%) scaleX(1.01);color:#5cd6e6;">0%</div>
<div class="c day blk" style="left:620.30px;top:676.09px;letter-spacing:0px;transform:translateX(-50%) scaleX(1.074);">sob</div>
<div class="c pct" style="left:622.06px;top:907.25px;letter-spacing:0.7px;transform:translateX(-50%) scaleX(1.03);color:#3a9bd3;">20%</div>
<div class="c day blk" style="left:700.60px;top:676.09px;letter-spacing:0px;transform:translateX(-50%) scaleX(1.11);">ned</div>
<div class="c pct" style="left:700.96px;top:907.25px;letter-spacing:0.7px;transform:translateX(-50%) scaleX(1.03);color:#3a9bd3;">30%</div>
<div class="c day blk" style="left:780.30px;top:676.09px;letter-spacing:0px;transform:translateX(-50%) scaleX(1.13);">pon</div>
<div class="c pct" style="left:779.86px;top:907.25px;letter-spacing:0.7px;transform:translateX(-50%) scaleX(1.03);color:#3a9bd3;">30%</div>
<div class="c day blk" style="left:857.50px;top:676.09px;letter-spacing:0px;transform:translateX(-50%) scaleX(1.11);">tor</div>
<div class="c pct" style="left:858.76px;top:907.25px;letter-spacing:0.7px;transform:translateX(-50%) scaleX(1.03);color:#3a9bd3;">20%</div>
<div class="c day blk" style="left:935.90px;top:676.09px;letter-spacing:0px;transform:translateX(-50%) scaleX(1.096);">sre</div>
<div class="c pct" style="left:937.66px;top:907.25px;letter-spacing:0.7px;transform:translateX(-50%) scaleX(1.03);color:#3a9bd3;">15%</div>
<div class="c day blk" style="left:1015.39px;top:676.09px;letter-spacing:0.7px;transform:translateX(-50%) scaleX(1.12);">čet</div>
<div class="c pct" style="left:1016.56px;top:907.25px;letter-spacing:0.7px;transform:translateX(-50%) scaleX(1.03);color:#3a9bd3;">20%</div>
<div class="c day blk" style="left:1095.58px;top:676.09px;letter-spacing:0.85px;transform:translateX(-50%) scaleX(1.12);">pet</div>
<div class="c pct" style="left:1095.46px;top:907.25px;letter-spacing:0.7px;transform:translateX(-50%) scaleX(1.03);color:#3a9bd3;">15%</div>
<div class="yt" style="left:5.9px;letter-spacing:1.3px;font-size:19.6px;top:692.61px">60</div>
<div class="yt" style="left:5.9px;letter-spacing:1.3px;font-size:19.6px;top:758.61px">40</div>
<div class="yt" style="left:5.9px;letter-spacing:1.3px;font-size:19.6px;top:823.81px">20</div>
<div class="yt" style="left:3.8px;font-size:19.6px;top:877.11px">0</div>
</body></html>
